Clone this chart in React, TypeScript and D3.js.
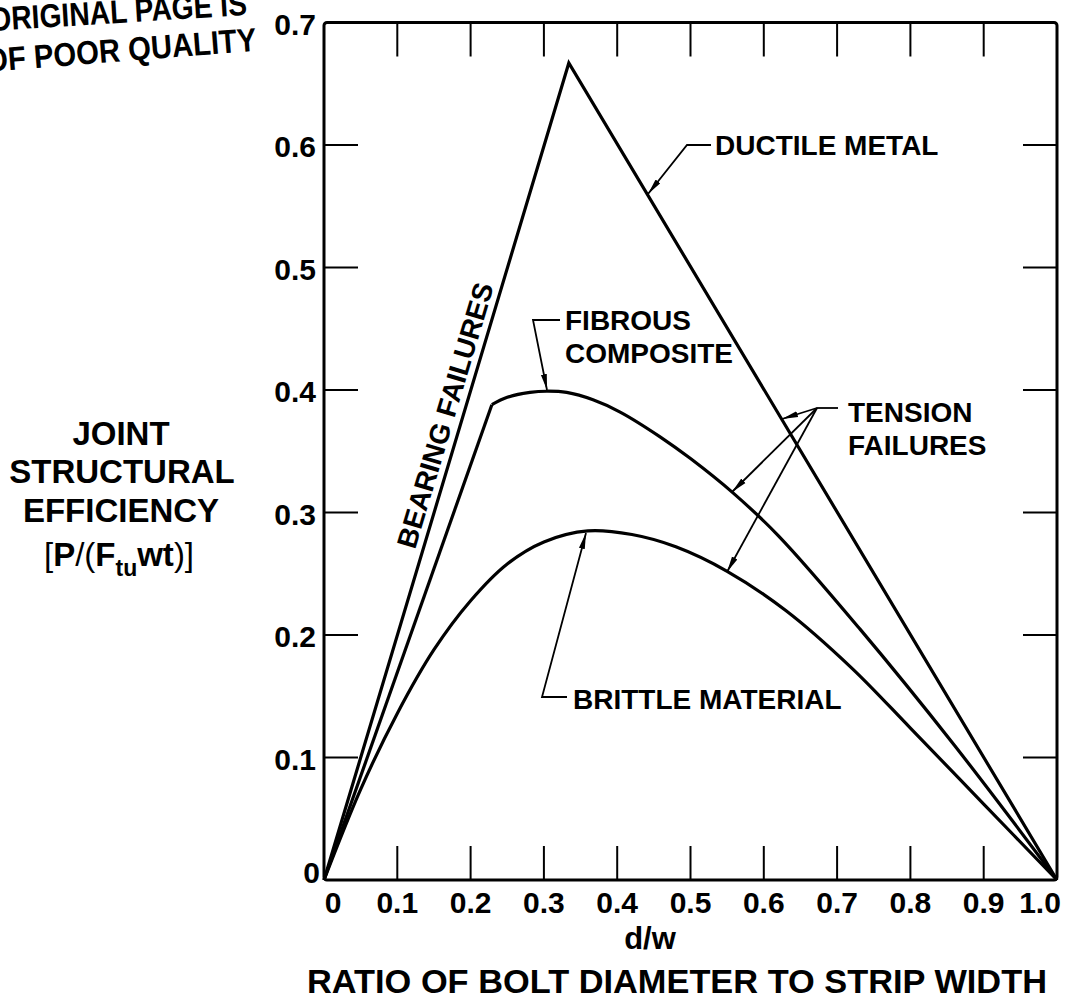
import React from "react";
import * as d3 from "d3";

// ---- data ----
const xTicks = [0, 0.1, 0.2, 0.3, 0.4, 0.5, 0.6, 0.7, 0.8, 0.9, 1.0];
const xTickLabels = ["0", "0.1", "0.2", "0.3", "0.4", "0.5", "0.6", "0.7", "0.8", "0.9", "1.0"];
const yTicks = [0, 0.1, 0.2, 0.3, 0.4, 0.5, 0.6, 0.7];
const yTickLabels = ["0", "0.1", "0.2", "0.3", "0.4", "0.5", "0.6", "0.7"];

// Ductile metal: bearing line up to peak, then tension line
const ductileX = [0, 0.334, 1.0];
const ductileY = [0, 0.667, 0];

// Fibrous composite: bearing segment then tension curve
const fibrousBearingX = [0, 0.229];
const fibrousBearingY = [0, 0.388];
const fibrousX = [0.229, 0.25, 0.281, 0.304, 0.331, 0.367, 0.404, 0.458, 0.5, 0.558, 0.62, 0.731, 0.86, 1.0];
const fibrousY = [0.388, 0.394, 0.398, 0.399, 0.398, 0.392, 0.382, 0.362, 0.344, 0.316, 0.281, 0.205, 0.11, 0];

// Brittle material
const brittleX = [0, 0.05, 0.1, 0.15, 0.2, 0.25, 0.3, 0.36, 0.42, 0.48, 0.55, 0.63, 0.72, 0.8, 0.9, 1.0];
const brittleY = [0, 0.074, 0.136, 0.188, 0.228, 0.258, 0.276, 0.285, 0.282, 0.272, 0.252, 0.22, 0.173, 0.124, 0.062, 0];

const zip = (xs: number[], ys: number[]) => xs.map((x, i) => [x, ys[i]] as [number, number]);

export default function App() {
  const W = 1080;
  const H = 1003;
  const x = d3.scaleLinear().domain([0, 1]).range([324, 1057]);
  const y = d3.scaleLinear().domain([0, 0.7]).range([880, 22.5]);

  const lineLin = d3.line<[number, number]>().x((d) => x(d[0])).y((d) => y(d[1]));
  const lineSmooth = d3
    .line<[number, number]>()
    .x((d) => x(d[0]))
    .y((d) => y(d[1]))
    .curve(d3.curveCatmullRom.alpha(0.5));

  const font = "'Liberation Sans', Arial, Helvetica, sans-serif";
  const tickLen = 34;
  const inner = yTicks.filter((t) => t > 0 && t < 0.7);
  const innerX = xTicks.filter((t) => t > 0 && t < 1);

  const curveStroke = 3.2;
  const leaderStroke = 1.8;

  // bearing-failure label runs parallel to the ductile bearing line
  const peakPx: [number, number] = [x(ductileX[1]), y(ductileY[1])];
  const originPx: [number, number] = [x(0), y(0)];
  const ang = (Math.atan2(peakPx[1] - originPx[1], peakPx[0] - originPx[0]) * 180) / Math.PI;
  const bearingLabelY = 418;
  const tLine = (originPx[1] - bearingLabelY) / (originPx[1] - peakPx[1]);
  const bearingLabelX = originPx[0] + tLine * (peakPx[0] - originPx[0]) - 8;

  return (
    <svg
      width={W}
      height={H}
      style={{ position: "absolute", left: 0, top: 0, background: "#fff" }}
      fontFamily={font}
      fontWeight="bold"
    >
      <defs>
        <marker
          id="arr"
          markerUnits="userSpaceOnUse"
          markerWidth={18}
          markerHeight={10}
          refX={16}
          refY={5}
          orient="auto"
        >
          <path d="M0,2 L16,5 L0,8 Z" fill="#000" />
        </marker>
      </defs>
      <rect x={0} y={0} width={W} height={H} fill="#fff" />

      {/* corner stamp */}
      <text transform="translate(-10,31) rotate(-3.6)" fontSize={33} textLength={258} lengthAdjust="spacingAndGlyphs">
        ORIGINAL PAGE IS
      </text>
      <text transform="translate(-14,72) rotate(-4.5)" fontSize={33} textLength={272} lengthAdjust="spacingAndGlyphs">
        OF POOR QUALITY
      </text>

      {/* frame */}
      <rect
        x={x(0)}
        y={y(0.7)}
        width={x(1) - x(0)}
        height={y(0) - y(0.7)}
        fill="none"
        stroke="#000"
        strokeWidth={3}
        rx={3}
      />
      {/* ticks */}
      {innerX.map((t) => (
        <g key={"xt" + t}>
          <line x1={x(t)} x2={x(t)} y1={y(0)} y2={y(0) - tickLen} stroke="#000" strokeWidth={2} />
          <line x1={x(t)} x2={x(t)} y1={y(0.7)} y2={y(0.7) + tickLen} stroke="#000" strokeWidth={2} />
        </g>
      ))}
      {inner.map((t) => (
        <g key={"yt" + t}>
          <line x1={x(0)} x2={x(0) + tickLen} y1={y(t)} y2={y(t)} stroke="#000" strokeWidth={2} />
          <line x1={x(1)} x2={x(1) - tickLen} y1={y(t)} y2={y(t)} stroke="#000" strokeWidth={2} />
        </g>
      ))}

      {/* tick labels */}
      {xTicks.map((t, i) => {
        const off = i === 0 ? 9 : i === xTicks.length - 1 ? -17 : 0;
        return (
          <text key={"xl" + t} x={x(t) + off} y={913} fontSize={30} textAnchor="middle">
            {xTickLabels[i]}
          </text>
        );
      })}
      {yTicks.map((t, i) => (
        <text
          key={"yl" + t}
          x={i === 0 ? 320 : 316}
          y={i === 0 ? y(t) + 3 : y(t) + 12}
          fontSize={30}
          textAnchor="end"
        >
          {yTickLabels[i]}
        </text>
      ))}

      {/* axis titles */}
      <text x={650} y={949} fontSize={31} textAnchor="middle">
        d/w
      </text>
      <text x={677} y={993} fontSize={33} textAnchor="middle" textLength={740} lengthAdjust="spacingAndGlyphs">
        RATIO OF BOLT DIAMETER TO STRIP WIDTH
      </text>
      <g fontSize={33} textAnchor="middle">
        <text x={121} y={445}>JOINT</text>
        <text x={122} y={483}>STRUCTURAL</text>
        <text x={121} y={522}>EFFICIENCY</text>
        <text x={119} y={566}>
          <tspan fontWeight="normal">[</tspan>
          <tspan>P</tspan>
          <tspan fontWeight="normal">/(</tspan>
          <tspan>F</tspan>
          <tspan fontSize={23} dy={10}>tu</tspan>
          <tspan dy={-10}>wt</tspan>
          <tspan fontWeight="normal">)]</tspan>
        </text>
      </g>

      {/* curves */}
      <path d={lineLin(zip(ductileX, ductileY)) || ""} fill="none" stroke="#000" strokeWidth={curveStroke} strokeLinejoin="miter" />
      <path d={lineLin(zip(fibrousBearingX, fibrousBearingY)) || ""} fill="none" stroke="#000" strokeWidth={curveStroke} />
      <path d={lineSmooth(zip(fibrousX, fibrousY)) || ""} fill="none" stroke="#000" strokeWidth={curveStroke} />
      <path d={lineSmooth(zip(brittleX, brittleY)) || ""} fill="none" stroke="#000" strokeWidth={curveStroke} />

      {/* annotations */}
      <g fontSize={28}>
        <text x={715} y={155}>DUCTILE METAL</text>
        <text x={565} y={330}>FIBROUS</text>
        <text x={565} y={363}>COMPOSITE</text>
        <text x={848} y={422}>TENSION</text>
        <text x={848} y={455}>FAILURES</text>
        <text x={573} y={709}>BRITTLE MATERIAL</text>
        <text transform={`translate(${bearingLabelX},${bearingLabelY}) rotate(${ang})`} textAnchor="middle">
          BEARING FAILURES
        </text>
      </g>
      <g fill="none" stroke="#000" strokeWidth={leaderStroke}>
        <polyline points="711,145 687,145 648,194" markerEnd="url(#arr)" />
        <polyline points="560,320 533,320 547,390" markerEnd="url(#arr)" />
        <line x1={838} y1={408} x2={817} y2={408} />
        <line x1={817} y1={408} x2={782} y2={419} markerEnd="url(#arr)" />
        <line x1={817} y1={408} x2={732} y2={492} markerEnd="url(#arr)" />
        <line x1={817} y1={408} x2={727} y2={572} markerEnd="url(#arr)" />
        <polyline points="567,697 542,697 586,533" markerEnd="url(#arr)" />
      </g>
    </svg>
  );
}
